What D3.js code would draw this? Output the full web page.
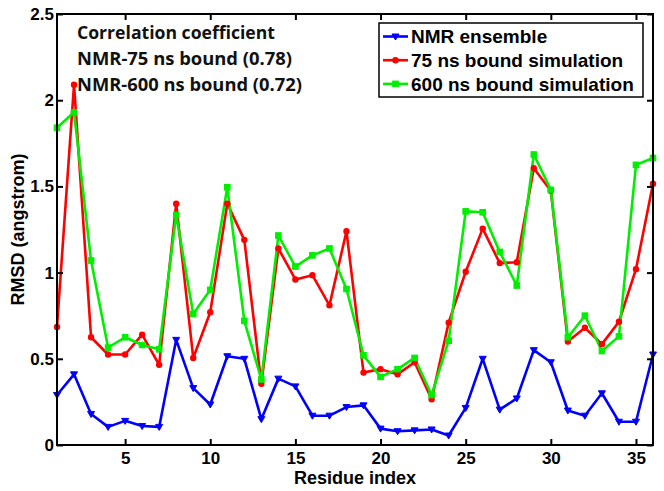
<!DOCTYPE html>
<html><head><meta charset="utf-8">
<script src="https://cdn.jsdelivr.net/npm/d3@7"></script>
<style>body{margin:0;background:#fff}svg{display:block}</style>
</head><body>
<script>
const residues = d3.range(1, 37);
const nmrEnsemble = [0.29,0.41,0.18,0.105,0.14,0.11,0.105,0.61,0.33,0.235,0.515,0.50,0.15,0.385,0.34,0.17,0.17,0.22,0.23,0.095,0.08,0.085,0.09,0.055,0.215,0.50,0.205,0.27,0.55,0.48,0.20,0.17,0.30,0.135,0.135,0.525];
const bound75 = [0.685,2.09,0.625,0.525,0.525,0.64,0.465,1.40,0.505,0.77,1.40,1.19,0.355,1.14,0.96,0.985,0.81,1.24,0.42,0.44,0.41,0.48,0.265,0.71,1.005,1.255,1.055,1.06,1.605,1.475,0.60,0.68,0.585,0.715,1.02,1.515];
const bound600 = [1.84,1.93,1.07,0.565,0.625,0.58,0.555,1.335,0.76,0.90,1.495,0.72,0.38,1.215,1.035,1.10,1.14,0.905,0.52,0.395,0.44,0.505,0.29,0.605,1.355,1.35,1.12,0.925,1.685,1.48,0.625,0.75,0.545,0.63,1.625,1.665];
const xTicks = [5,10,15,20,25,30,35];
const yTicks = [0,0.5,1,1.5,2,2.5];
const seriesNames = ["NMR ensemble","75 ns bound simulation","600 ns bound simulation"];
const seriesColors = ["#0000ff","#ff0000","#00ee00"];
const annotation = ["Correlation coefficient","NMR-75 ns bound (0.78)","NMR-600 ns bound (0.72)"];
const annotationWidths = [198, 215, 225];

const W = 664, H = 491;
const m = {left:57, right:11, top:14, bottom:46};
const svg = d3.select("body").append("svg").attr("width",W).attr("height",H);
const x = d3.scaleLinear().domain([1,36]).range([m.left, W-m.right]);
const y = d3.scaleLinear().domain([0,2.5]).range([H-m.bottom, m.top]);
const font = "'Liberation Sans', Arial, sans-serif";

// lines
const series = [nmrEnsemble, bound75, bound600];
const line = d3.line().x((d,i)=>x(residues[i])).y(d=>y(d));
const g = svg.append("g");
series.forEach((s,k)=>{
  g.append("path").datum(s).attr("d",line).attr("fill","none")
    .attr("stroke",seriesColors[k]).attr("stroke-width",2.6).attr("stroke-linejoin","round");
});
function marker(sel, k, cx, cy){
  if(k===0){
    sel.append("path").attr("d",`M${cx-3.5},${cy-2.5}L${cx+3.5},${cy-2.5}L${cx},${cy+3.5}Z`)
      .attr("fill",seriesColors[k]).attr("stroke",seriesColors[k]).attr("stroke-width",1);
  } else if(k===1){
    sel.append("circle").attr("cx",cx).attr("cy",cy).attr("r",2.6)
      .attr("fill",seriesColors[k]).attr("stroke",seriesColors[k]).attr("stroke-width",1.2);
  } else {
    sel.append("rect").attr("x",cx-2.8).attr("y",cy-2.8).attr("width",5.6).attr("height",5.6)
      .attr("fill",seriesColors[k]).attr("stroke",seriesColors[k]).attr("stroke-width",1);
  }
}
series.forEach((s,k)=>{
  s.forEach((v,i)=>marker(g,k,x(residues[i]),y(v)));
});

// axes frame
const ax = svg.append("g").attr("stroke","#000").attr("stroke-width",2);
ax.append("rect").attr("x",m.left).attr("y",m.top).attr("width",W-m.right-m.left).attr("height",H-m.bottom-m.top).attr("fill","none");
const bottomAxis = d3.axisBottom(x).tickValues(xTicks).tickSize(-6).tickPadding(7).tickFormat(d3.format("d"));
const topAxis = d3.axisTop(x).tickValues(xTicks).tickSize(-6).tickFormat("");
const leftAxis = d3.axisLeft(y).tickValues(yTicks).tickSize(-6).tickPadding(3).tickFormat(d=>String(d));
const rightAxis = d3.axisRight(y).tickValues(yTicks).tickSize(-6).tickFormat("");
function style(a){
  a.select(".domain").remove();
  a.selectAll("line").attr("stroke","#000").attr("stroke-width",2);
  a.selectAll("text").attr("fill","#000").attr("font-family",font).attr("font-size",17).attr("font-weight","bold");
}
svg.append("g").attr("transform",`translate(0,${H-m.bottom})`).call(bottomAxis).call(style);
svg.append("g").attr("transform",`translate(0,${m.top})`).call(topAxis).call(style);
svg.append("g").attr("transform",`translate(${m.left},0)`).call(leftAxis).call(style);
svg.append("g").attr("transform",`translate(${W-m.right},0)`).call(rightAxis).call(style);

// axis labels
svg.append("text").attr("x",(m.left+W-m.right)/2).attr("y",484).attr("text-anchor","middle")
  .attr("font-family",font).attr("font-size",18).attr("font-weight","bold").text("Residue index");
svg.append("text").attr("transform",`translate(24,${(m.top+H-m.bottom)/2}) rotate(-90)`).attr("text-anchor","middle")
  .attr("font-family",font).attr("font-size",18).attr("font-weight","bold").text("RMSD (angstrom)");

// legend
const lg = svg.append("g");
lg.append("rect").attr("x",379).attr("y",23).attr("width",264).attr("height",74)
  .attr("fill","#fff").attr("stroke","#000").attr("stroke-width",1.5);
seriesNames.forEach((n,k)=>{
  const cy = 36.5 + k*23.7;
  lg.append("line").attr("x1",383).attr("x2",408).attr("y1",cy).attr("y2",cy)
    .attr("stroke",seriesColors[k]).attr("stroke-width",2.6);
  marker(lg,k,395.5,cy);
  lg.append("text").attr("x",411).attr("y",cy).attr("dy","0.36em").attr("font-family",font)
    .attr("font-size",19).attr("font-weight","bold").text(n);
});

// annotation
annotation.forEach((t,k)=>{
  svg.append("text").attr("x",77).attr("y",33+k*26).attr("dy","0.36em")
    .attr("font-family","'Open Sans', 'Noto Sans', sans-serif").attr("font-size",17).attr("font-weight",700)
    .attr("textLength",annotationWidths[k]).attr("lengthAdjust","spacingAndGlyphs")
    .attr("fill","#111").text(t);
});
</script>
</body></html>
